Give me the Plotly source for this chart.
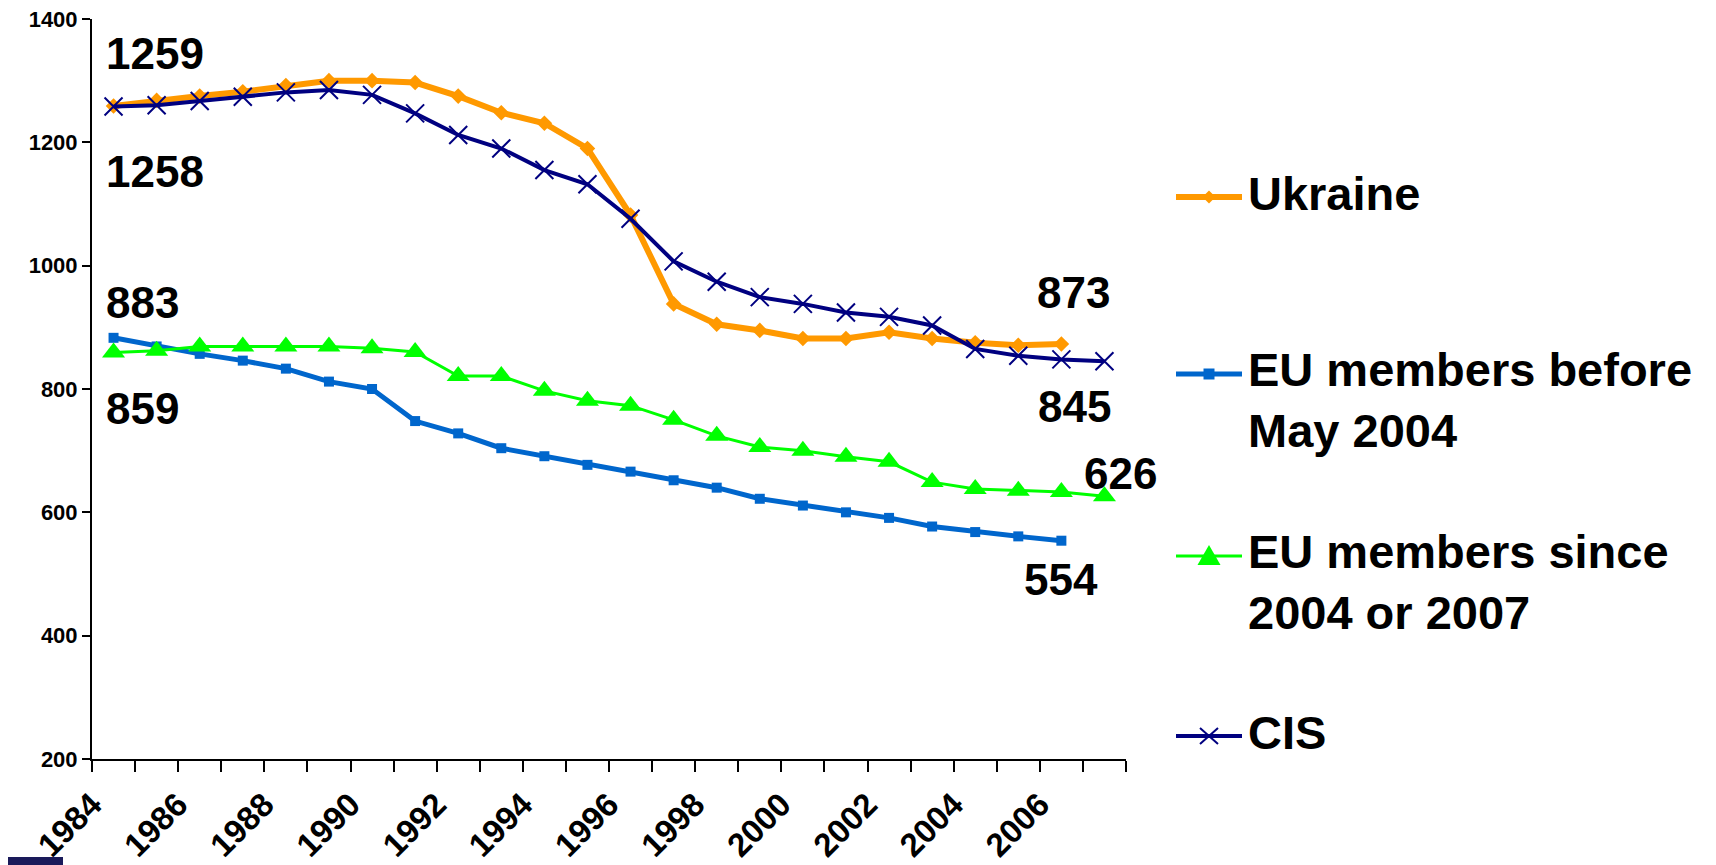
import plotly.graph_objects as go

# ---------------- data ----------------
years = list(range(1984, 2008))
tick_labels = ["1984", "1986", "1988", "1990", "1992", "1994",
               "1996", "1998", "2000", "2002", "2004", "2006"]

ukraine = [1259, 1268, 1275, 1282, 1292, 1300, 1300, 1297, 1275, 1248, 1231, 1190,
           1082, 938, 905, 895, 882, 882, 892, 882, 875, 871, 873]
eu_old = [883, 869, 857, 846, 833, 812, 800, 748, 728, 704, 691, 677,
          666, 652, 640, 622, 611, 600, 591, 577, 568, 561, 554]
eu_new = [859, 862, 869, 869, 869, 869, 866, 860, 821, 821, 797, 781,
          773, 750, 724, 706, 700, 690, 682, 649, 638, 635, 633, 626]
cis = [1258, 1260, 1267, 1274, 1281, 1285, 1277, 1247, 1212, 1190, 1155, 1132,
       1076, 1007, 974, 949, 938, 924, 917, 903, 865, 854, 848, 845]

names = ["Ukraine", "EU members before<br>May 2004",
         "EU members since<br>2004 or 2007", "CIS"]
colors = ["#FF9900", "#0066CC", "#00FF00", "#000080"]
widths = [6, 5, 3, 4]

FONT = "Liberation Sans, Arial, sans-serif"

# layout geometry (px)
W, H = 1716, 865
ML, MR, MT, MB = 84, 598, 11, 114
PW, PH = W - ML - MR, H - MT - MB

fig = go.Figure()

fig.add_trace(go.Scatter(
    x=years[:len(ukraine)], y=ukraine, name=names[0], mode="lines+markers",
    line=dict(color=colors[0], width=widths[0]),
    marker=dict(symbol="diamond", size=12, color=colors[0])))
fig.add_trace(go.Scatter(
    x=years[:len(eu_old)], y=eu_old, name=names[1], mode="lines+markers",
    line=dict(color=colors[1], width=widths[1]),
    marker=dict(symbol="square", size=10, color=colors[1])))
fig.add_trace(go.Scatter(
    x=years[:len(eu_new)], y=eu_new, name=names[2], mode="lines+markers",
    line=dict(color=colors[2], width=widths[2]),
    marker=dict(symbol="triangle-up", size=20, color=colors[2])))
fig.add_trace(go.Scatter(
    x=years[:len(cis)], y=cis, name=names[3], mode="lines+markers",
    line=dict(color=colors[3], width=widths[3]),
    marker=dict(symbol="x-thin", size=18, color=colors[3],
                line=dict(color=colors[3], width=2))))

# ---------------- data labels ----------------
def lab(x, y, text, xs, ys, xanchor="left"):
    fig.add_annotation(x=x, y=y, xref="x", yref="y", text=text, showarrow=False,
                       xanchor=xanchor, yanchor="middle", xshift=xs, yshift=ys,
                       font=dict(family=FONT, size=44, color="black", weight="bold"))

lab(years[0], ukraine[0], str(ukraine[0]), -10, 52)
lab(years[0], cis[0], str(cis[0]), -10, -65)
lab(years[0], eu_old[0], str(eu_old[0]), -10, 35)
lab(years[0], eu_new[0], str(eu_new[0]), -10, -56)
lab(years[len(ukraine) - 1], ukraine[-1], str(ukraine[-1]), 12, 51, "center")
lab(years[len(cis) - 1], cis[-1], str(cis[-1]), -30, -45, "center")
lab(years[len(eu_new) - 1], eu_new[-1], str(eu_new[-1]), 16, 23, "center")
lab(years[len(eu_old) - 1], eu_old[-1], str(eu_old[-1]), 0, -39, "center")

# ---------------- axes ----------------
boundaries = [y - 0.5 for y in years] + [years[-1] + 0.5]
ticktext = [str(int(b + 0.5)) if str(int(b + 0.5)) in tick_labels else "" for b in boundaries]

fig.update_xaxes(
    range=[years[0] - 0.5, years[-1] + 0.5], tickmode="array",
    tickvals=boundaries, ticktext=ticktext, tickangle=-45,
    ticks="outside", ticklen=11, tickwidth=2, tickcolor="black",
    showline=True, linecolor="black", linewidth=2, showgrid=False, zeroline=False,
    ticklabeloverflow="allow",
    tickfont=dict(family=FONT, size=33, color="black", weight="bold"))
fig.update_yaxes(
    range=[200, 1400], tickmode="array", tickvals=list(range(200, 1401, 200)),
    ticks="outside", ticklen=8, tickwidth=2, tickcolor="black",
    showline=True, linecolor="black", linewidth=2, showgrid=False, zeroline=False,
    ticklabeloverflow="allow",
    tickfont=dict(family=FONT, size=22, color="black", weight="bold"))

fig.update_layout(
    width=W, height=H,
    margin=dict(l=ML, r=MR, t=MT, b=MB, autoexpand=False),
    plot_bgcolor="white", paper_bgcolor="white",
    showlegend=False,
)

# ---------------- legend (Excel-style, drawn as key lines + symbols + text) ----------------
icon_y = [189, 366, 548, 728]          # vertical centre of each key (px from top)
two_line = [False, True, True, False]
KEY_X0, KEY_X1, TEXT_X = 1168, 1234, 1238
KEY_MID = (KEY_X0 + KEY_X1) / 2

sym_paths = [
    "M -6.5,0 L 0,6.5 L 6.5,0 L 0,-6.5 Z",                    # diamond
    "M -5.5,-5.5 L 5.5,-5.5 L 5.5,5.5 L -5.5,5.5 Z",           # square
    "M -11.5,-9 L 11.5,-9 L 0,11 Z",                           # triangle up
    "M -9,-8 L 9,8 M -9,8 L 9,-8",                             # x
]

def px(xp):
    return (xp - ML) / PW

def py(yp):
    return 1 - (yp - MT) / PH

for i, (iy, c, w) in enumerate(zip(icon_y, colors, widths)):
    fig.add_shape(type="line", xref="paper", yref="paper",
                  x0=px(KEY_X0), x1=px(KEY_X1), y0=py(iy), y1=py(iy),
                  line=dict(color=c, width=w))
    if i < 3:
        fig.add_shape(type="path", xref="paper", yref="paper",
                      xsizemode="pixel", ysizemode="pixel",
                      xanchor=px(KEY_MID), yanchor=py(iy), path=sym_paths[i],
                      fillcolor=c, line=dict(width=0))
    else:
        fig.add_shape(type="path", xref="paper", yref="paper",
                      xsizemode="pixel", ysizemode="pixel",
                      xanchor=px(KEY_MID), yanchor=py(iy), path=sym_paths[i],
                      line=dict(color=c, width=2))
    yc = iy + 26 if two_line[i] else iy - 4
    fig.add_annotation(x=px(TEXT_X), y=py(yc), xref="paper", yref="paper",
                       text=names[i], showarrow=False, xanchor="left", yanchor="middle",
                       align="left",
                       font=dict(family=FONT, size=47, color="black", weight="bold"))

# small slide artifact at bottom-left corner
fig.add_shape(type="rect", xref="paper", yref="paper",
              x0=px(-8), x1=px(55), y0=py(858), y1=py(849),
              fillcolor="#1a1a5a", line=dict(width=0))

fig.write_html("out.html")
